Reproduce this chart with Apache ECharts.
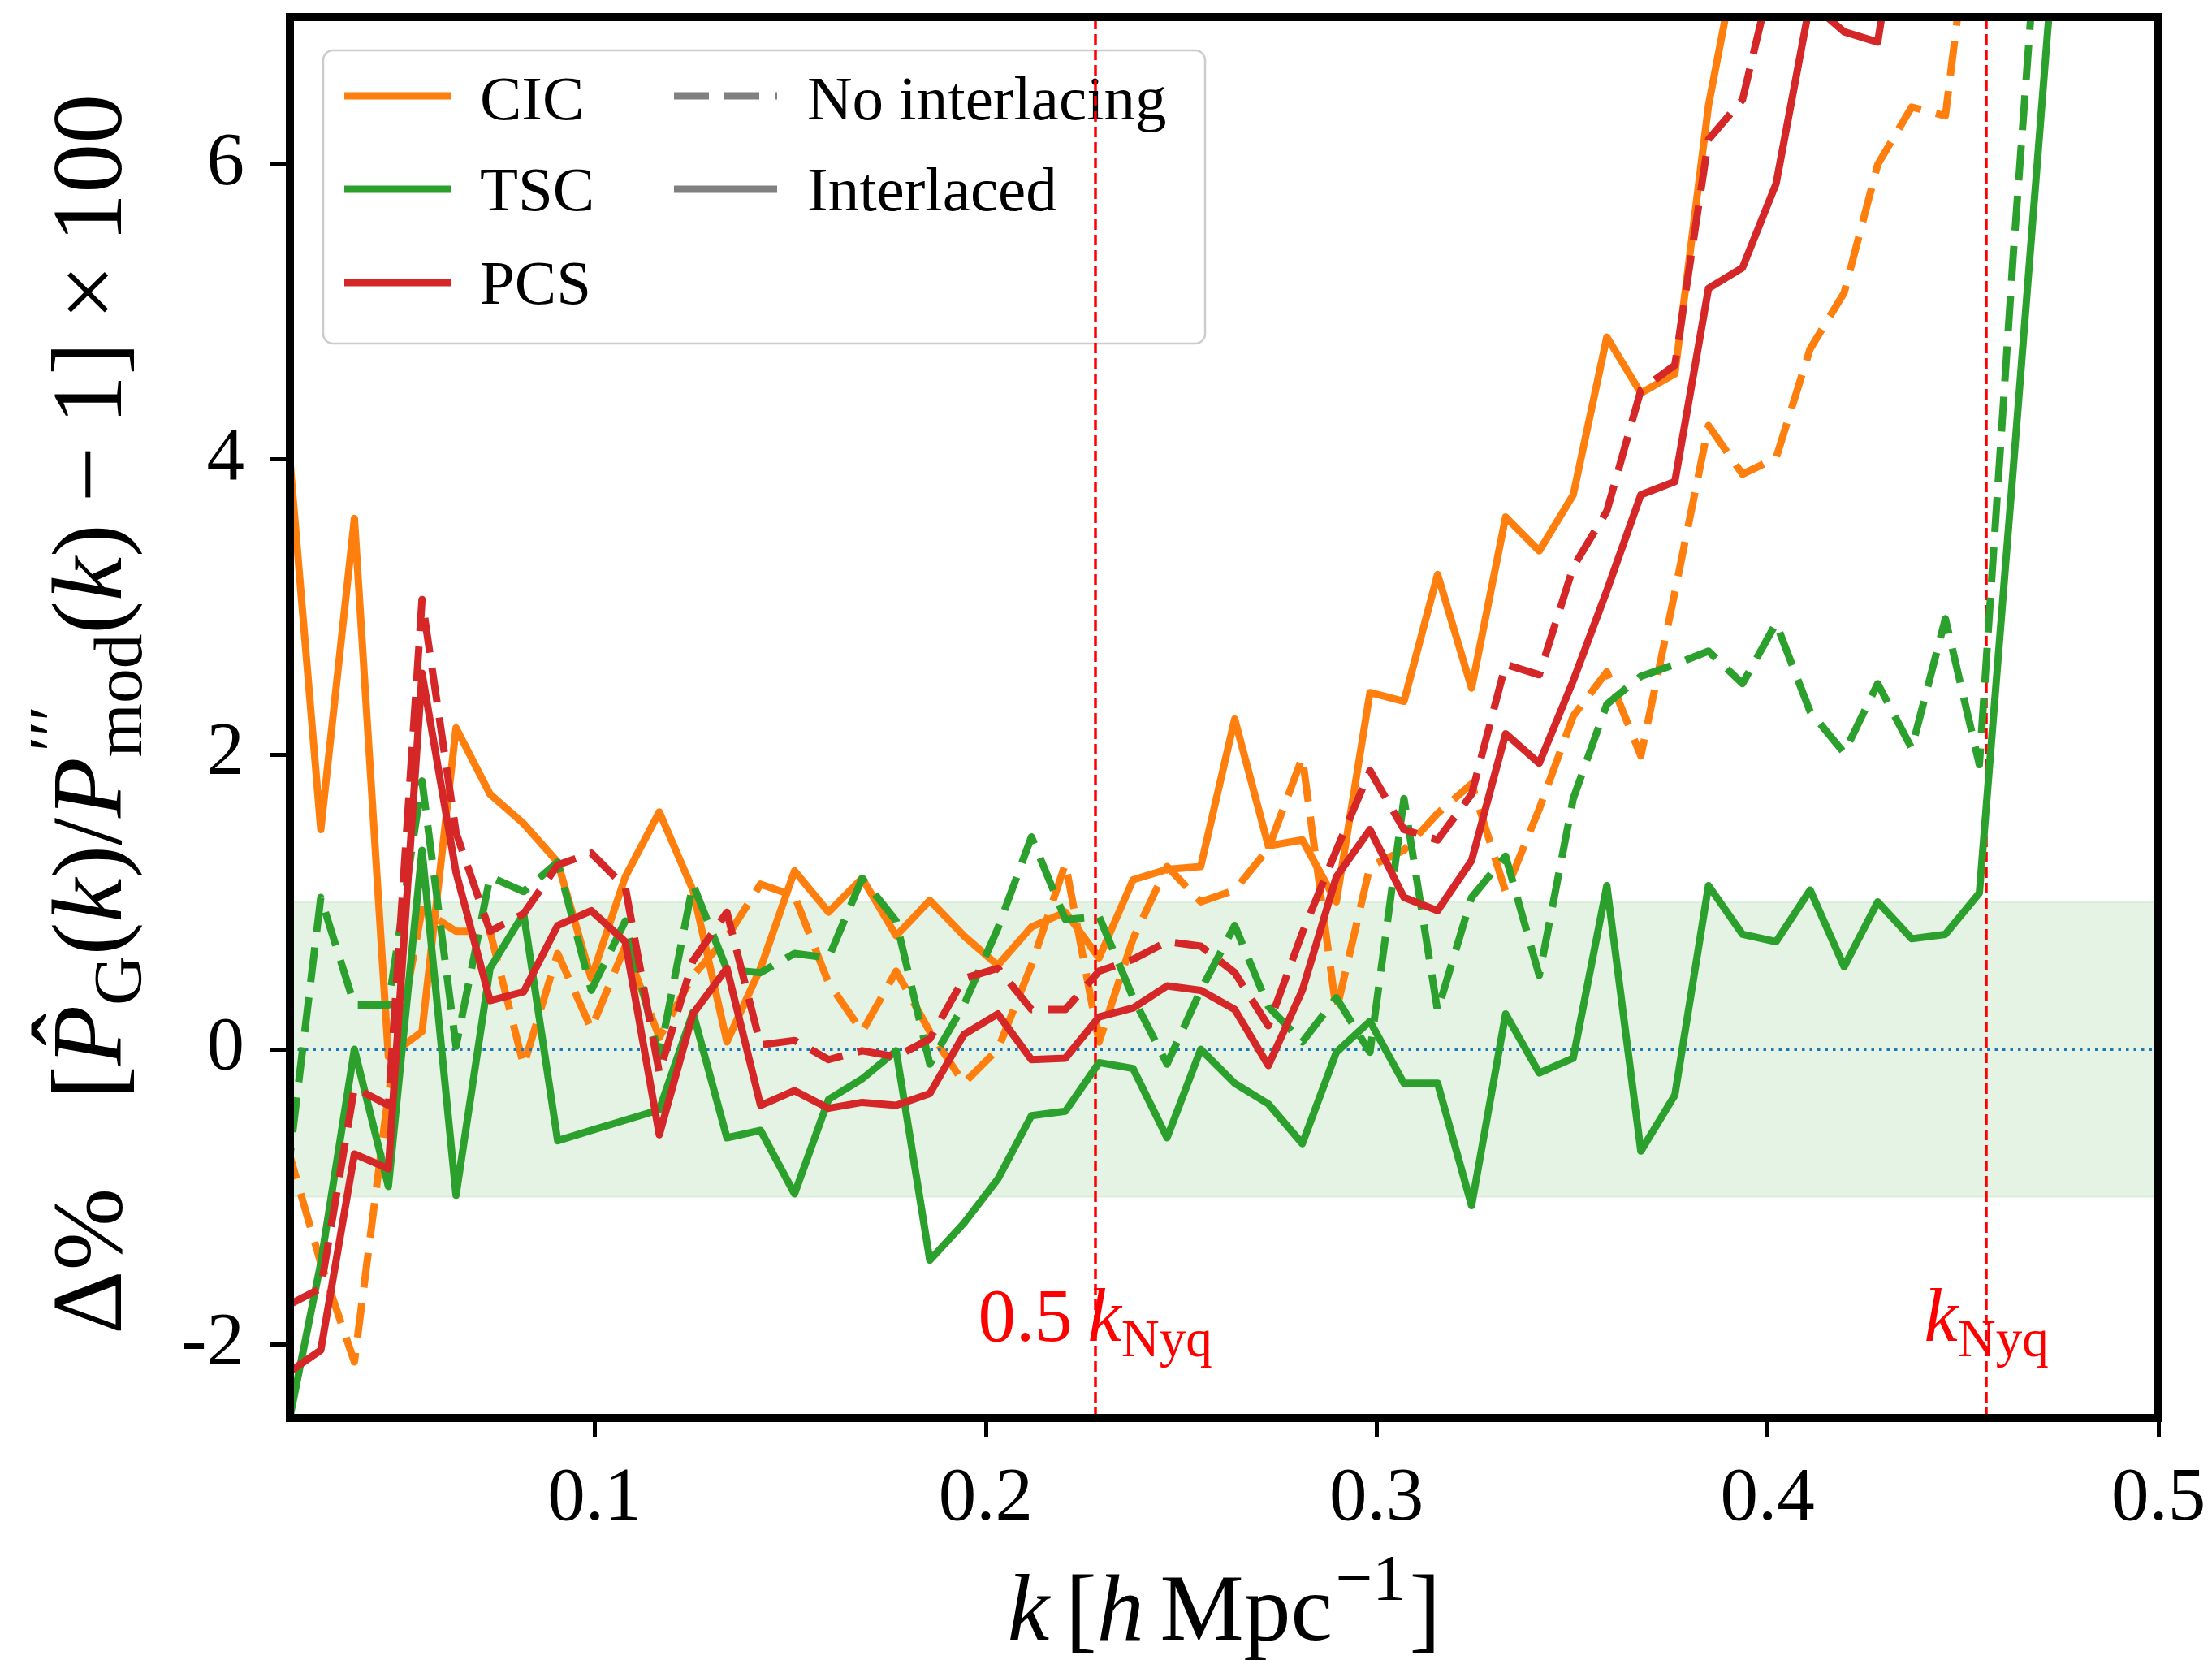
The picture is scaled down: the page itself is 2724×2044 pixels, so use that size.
<!DOCTYPE html>
<html>
<head>
<meta charset="utf-8">
<script src="https://cdn.jsdelivr.net/npm/echarts@6/dist/echarts.min.js"></script>
<style>
  html, body { margin: 0; padding: 0; background: #ffffff; }
  #chart { width: 2724px; height: 2044px; }
</style>
</head>
<body>
<div id="chart"></div>
<script>
// Wavenumber bins k [h/Mpc]
const kValues = [
  0.0212, 0.0299, 0.0385, 0.0472, 0.0558, 0.0645, 0.0732, 0.0818, 0.0905, 0.0991,
  0.1078, 0.1165, 0.1251, 0.1338, 0.1424, 0.1511, 0.1598, 0.1684, 0.1771, 0.1857,
  0.1944, 0.2031, 0.2117, 0.2204, 0.2290, 0.2377, 0.2464, 0.2550, 0.2637, 0.2723,
  0.2810, 0.2897, 0.2983, 0.3070, 0.3156, 0.3243, 0.3330, 0.3416, 0.3503, 0.3589,
  0.3676, 0.3763, 0.3849, 0.3936, 0.4022, 0.4109, 0.4196, 0.4282, 0.4369, 0.4455,
  0.4542, 0.4629, 0.4715, 0.4802, 0.4888, 0.4975
];

// Percent deviation from the model spectrum, per assignment scheme
const cicNoInterlacing = [
  -0.65, -1.45, -2.12, -0.30, 0.95, 0.80, 0.80, -0.11, 0.65, 0.14,
  0.70, 0.08, 0.50, 0.76, 1.12, 1.04, 0.45, 0.12, 0.53, 0.12,
  -0.23, 0.00, 0.57, 1.26, 0.05, 0.75, 1.24, 1.00, 1.08, 1.36,
  1.98, 0.26, 1.24, 1.35, 1.60, 1.80, 1.07, 1.63, 2.26, 2.56,
  1.99, 3.10, 4.23, 3.90, 4.01, 4.75, 5.13, 6.00, 6.39, 6.33,
  8.20, 9.50, 10.5, 11.5, 12.5, 13.5
];
const cicInterlaced = [
  4.25, 1.49, 3.60, -0.05, 0.12, 2.18, 1.73, 1.53, 1.27, 0.48,
  1.17, 1.61, 1.08, 0.05, 0.55, 1.21, 0.93, 1.16, 0.77, 1.01,
  0.77, 0.57, 0.83, 0.93, 0.62, 1.15, 1.22, 1.24, 2.24, 1.38,
  1.42, 1.00, 2.42, 2.36, 3.22, 2.45, 3.61, 3.38, 3.76, 4.83,
  4.45, 4.58, 6.40, 7.60, 8.40, 9.00, 9.70, 10.3, 11.0, 11.6,
  12.3, 13.0, 13.8, 14.5, 15.3, 16.0
];
const tscNoInterlacing = [
  -0.90, 1.03, 0.30, 0.30, 1.82, 0.02, 1.17, 1.07, 1.27, 0.40,
  0.87, -0.05, 1.12, 0.54, 0.52, 0.65, 0.62, 1.16, 0.87, -0.10,
  0.30, 0.82, 1.44, 0.88, 0.90, 0.35, -0.10, 0.40, 0.84, 0.29,
  0.05, 0.35, -0.02, 1.70, 0.26, 1.03, 1.31, 0.50, 1.70, 2.34,
  2.53, 2.61, 2.70, 2.48, 2.89, 2.29, 2.01, 2.48, 2.04, 2.92,
  1.93, 5.40, 8.50, 11.5, 14.5, 17.5
];
const tscInterlaced = [
  -2.60, -1.45, 0.00, -0.93, 1.35, -0.99, 0.55, 0.92, -0.62, -0.55,
  -0.48, -0.41, 0.25, -0.60, -0.55, -0.98, -0.34, -0.20, -0.01, -1.43,
  -1.18, -0.88, -0.45, -0.42, -0.09, -0.13, -0.60, 0.00, -0.23, -0.37,
  -0.64, -0.02, 0.19, -0.23, -0.23, -1.06, 0.24, -0.16, -0.06, 1.11,
  -0.69, -0.31, 1.11, 0.78, 0.73, 1.08, 0.56, 1.00, 0.75, 0.78,
  1.06, 3.95, 6.85, 9.70, 12.5, 15.4
];
const pcsNoInterlacing = [
  -1.74, -1.62, -0.26, -0.38, 3.05, 1.47, 0.80, 0.92, 1.25, 1.33,
  1.10, -0.16, 0.60, 0.93, 0.03, 0.06, -0.07, -0.01, -0.05, 0.07,
  0.48, 0.55, 0.27, 0.27, 0.53, 0.61, 0.73, 0.70, 0.52, 0.16,
  0.79, 1.35, 1.89, 1.49, 1.42, 1.73, 2.61, 2.54, 3.27, 3.65,
  4.47, 4.64, 6.17, 6.44, 7.40, 8.30, 9.20, 10.1, 11.0, 12.0,
  13.0, 14.0, 15.0, 16.0, 17.0, 18.0
];
const pcsInterlaced = [
  -2.20, -2.04, -0.71, -0.81, 2.55, 1.20, 0.33, 0.39, 0.84, 0.94,
  0.73, -0.58, 0.24, 0.55, -0.38, -0.28, -0.40, -0.36, -0.38, -0.30,
  0.10, 0.24, -0.07, -0.06, 0.22, 0.28, 0.43, 0.40, 0.27, -0.11,
  0.40, 1.17, 1.49, 1.03, 0.94, 1.28, 2.14, 1.94, 2.50, 3.11,
  3.76, 3.85, 5.16, 5.30, 5.87, 7.10, 6.90, 6.83, 8.30, 9.50,
  10.5, 11.5, 12.5, 13.5, 14.5, 15.5
];

const methods = ['CIC', 'TSC', 'PCS'];
const modes = ['No interlacing', 'Interlaced'];
const methodColors = ['#ff7f0e', '#2ca02c', '#d62728'];
const seriesValues = [
  [cicNoInterlacing, cicInterlaced],
  [tscNoInterlacing, tscInterlaced],
  [pcsNoInterlacing, pcsInterlaced]
];

const xTicks = [0.1, 0.2, 0.3, 0.4, 0.5];
const yTicks = [-2, 0, 2, 4, 6];
const xRange = [0.022, 0.5];
const yRange = [-2.5, 7];
const percentBand = [-1, 1];
const kNyquist = 0.456;
const kMarks = [0.228, kNyquist];

const SERIF = '"Liberation Serif", "Times New Roman", serif';
const DASH = [43, 19];
const LINE_W = 9;

const chart = echarts.init(document.getElementById('chart'), null, { renderer: 'canvas', width: 2724, height: 2044 });

// ---- series ----
const series = [];
series.push({
  type: 'line', name: 'band', data: [[xRange[0], 0], [xRange[1], 0]],
  symbol: 'none', silent: true, z: 1, lineStyle: { opacity: 0 },
  markArea: {
    silent: true,
    itemStyle: { color: 'rgba(44,160,44,0.13)', borderColor: 'rgba(44,160,44,0.10)', borderWidth: 2 },
    data: [[{ yAxis: percentBand[0] }, { yAxis: percentBand[1] }]]
  }
});
methods.forEach((m, mi) => {
  modes.forEach((mode, di) => {
    const vals = seriesValues[mi][di];
    series.push({
      type: 'line',
      name: m + ' ' + mode,
      data: kValues.map((k, i) => [k, vals[i]]),
      symbol: 'none', showSymbol: false, clip: true, silent: true,
      z: 3 + mi * 2 + di,
      lineStyle: { color: methodColors[mi], width: LINE_W, type: di === 0 ? DASH : 'solid', cap: 'butt', join: 'round' },
      emphasis: { disabled: true }
    });
  });
});
series.push({
  type: 'line', name: 'refs', data: [[xRange[0], 0], [xRange[1], 0]],
  symbol: 'none', silent: true, z: 20, lineStyle: { opacity: 0 },
  markLine: {
    silent: true, symbol: ['none', 'none'], label: { show: false }, precision: 6,
    data: [
      { yAxis: 0, lineStyle: { color: '#1f77b4', width: 3, type: [3.5, 6] } },
      { xAxis: kMarks[0], lineStyle: { color: '#ff0000', width: 3.5, type: [13, 6] } },
      { xAxis: kMarks[1], lineStyle: { color: '#ff0000', width: 3.5, type: [13, 6] } }
    ]
  }
});

const option = {
  animation: false,
  backgroundColor: '#ffffff',
  grid: { left: 357, top: 21, right: 66, bottom: 298, containLabel: false },
  xAxis: {
    type: 'value', min: xRange[0], max: xRange[1], position: 'bottom',
    axisLine: { show: false, onZero: false },
    splitLine: { show: false },
    axisTick: { show: true, inside: false, length: 24, customValues: xTicks, lineStyle: { color: '#000', width: 5 } },
    axisLabel: { show: true, customValues: xTicks, margin: 54, fontSize: 93, fontFamily: SERIF, color: '#000',
      formatter: v => v.toFixed(1) }
  },
  yAxis: {
    type: 'value', min: yRange[0], max: yRange[1], position: 'left',
    axisLine: { show: false, onZero: false },
    splitLine: { show: false },
    axisTick: { show: true, inside: false, length: 24, customValues: yTicks, lineStyle: { color: '#000', width: 5 } },
    axisLabel: { show: true, customValues: yTicks, margin: 56, fontSize: 93, fontFamily: SERIF, color: '#000',
      formatter: v => String(v) }
  },
  series: series
};
chart.setOption(option);

// ---- text layout helpers for the math-style labels ----
const mctx = document.createElement('canvas').getContext('2d');
function fontOf(size, italic) { return (italic ? 'italic ' : '') + size.toFixed(1) + 'px ' + SERIF; }
function textWidth(t, size, italic) { mctx.font = fontOf(size, italic); return mctx.measureText(t).width; }
mctx.font = fontOf(100, false);
mctx.textBaseline = 'middle';
const mH = mctx.measureText('H');
const MID = (mH.actualBoundingBoxDescent > 0 ? mH.actualBoundingBoxDescent : 34) / 100;
mctx.textBaseline = 'alphabetic';

function textEl(t, x, baseline, size, italic, color, align) {
  return {
    type: 'text', x: x, y: baseline - MID * size, silent: true,
    style: { text: t, font: fontOf(size, italic), fill: color,
      align: align || 'left', verticalAlign: 'middle', textAlign: align || 'left', textVerticalAlign: 'middle' }
  };
}

function layoutMath(pieces, base, color) {
  const out = [];
  let x = 0;
  pieces.forEach(p => {
    if (p.space) { x += p.space * base; return; }
    const size = base * (p.scale || 1);
    const dx = (p.dx || 0) * base;
    const w = textWidth(p.t, size, p.it);
    out.push(textEl(p.t, x + dx, (p.shift || 0) * base, size, p.it, color));
    if (!p.overlay) x += dx + w;
  });
  return { children: out, width: x };
}

function centered(layout, cx, baseline) {
  return { type: 'group', x: cx - layout.width / 2, y: baseline, children: layout.children, silent: true };
}

// ---- decorations ----
const gridTL = chart.convertToPixel({ gridIndex: 0 }, [xRange[0], yRange[1]]);
const gridBR = chart.convertToPixel({ gridIndex: 0 }, [xRange[1], yRange[0]]);
const gx = gridTL[0], gy = gridTL[1], gw = gridBR[0] - gridTL[0], gh = gridBR[1] - gridTL[1];

const graphics = [];

// x axis title: k [h Mpc^-1]
const xTitle = layoutMath([
  { t: 'k', it: true }, { space: 0.17 }, { t: '[' }, { t: 'h', it: true }, { space: 0.17 },
  { t: 'Mpc' }, { t: '\u22121', scale: 0.7, shift: -0.42, dx: 0.03 }, { t: ']', dx: 0.04 }
], 116, '#000');
graphics.push(centered(xTitle, gx + gw / 2, 2020));

// y axis title, rotated
const yTitle = layoutMath([
  { t: '\u0394%' }, { space: 0.9 },
  { t: '[' },
  { t: '\u02c6', overlay: true, dx: 0.2, shift: -0.2 },
  { t: 'P', it: true },
  { t: 'G', scale: 0.7, shift: 0.2 },
  { t: '(' }, { t: 'k', it: true }, { t: ')' }, { t: '/' },
  { t: 'P', it: true },
  { t: '\u2032\u2032\u2032', scale: 0.7, shift: -0.45, overlay: true, dx: 0.06 },
  { t: 'mod', scale: 0.7, shift: 0.2 },
  { t: '(' }, { t: 'k', it: true }, { t: ')' },
  { space: 0.22 }, { t: '\u2212' }, { space: 0.22 }, { t: '1' }, { t: ']' },
  { space: 0.22 }, { t: '\u00d7' }, { space: 0.22 }, { t: '100' }
], 122, '#000');
graphics.push({
  type: 'group', x: 150, y: 1643, rotation: Math.PI / 2,
  children: yTitle.children, silent: true
});

// Nyquist labels
const nyqLabelY = chart.convertToPixel({ gridIndex: 0 }, [kMarks[0], -1.98])[1];
const halfNyq = layoutMath([
  { t: '0.5' }, { space: 0.2 }, { t: 'k', it: true }, { t: 'Nyq', scale: 0.7, shift: 0.2 }
], 93, '#ff0000');
graphics.push(centered(halfNyq, chart.convertToPixel({ gridIndex: 0 }, [kMarks[0], 0])[0], nyqLabelY));
const fullNyq = layoutMath([
  { t: 'k', it: true }, { t: 'Nyq', scale: 0.7, shift: 0.2 }
], 93, '#ff0000');
graphics.push(centered(fullNyq, chart.convertToPixel({ gridIndex: 0 }, [kMarks[1], 0])[0], nyqLabelY));

// legend box
const legend = { x: 398, y: 62, w: 1086, h: 361 };
const legendRows = [118, 233, 348];
const legendBase = [148, 260, 375];
const legendEls = [{
  type: 'rect', shape: { x: legend.x, y: legend.y, width: legend.w, height: legend.h, r: 12 },
  style: { fill: 'rgba(255,255,255,0.8)', stroke: '#cccccc', lineWidth: 2.5 }, silent: true
}];
methods.forEach((m, i) => {
  legendEls.push({ type: 'line', shape: { x1: 424, y1: legendRows[i], x2: 555, y2: legendRows[i] },
    style: { stroke: methodColors[i], lineWidth: LINE_W }, silent: true });
  legendEls.push(textEl(m, 591, legendBase[i], 77, false, '#000'));
});
modes.forEach((mode, i) => {
  legendEls.push({ type: 'line', shape: { x1: 830, y1: legendRows[i], x2: 957, y2: legendRows[i] },
    style: { stroke: '#808080', lineWidth: LINE_W, lineDash: i === 0 ? DASH : null }, silent: true });
  legendEls.push(textEl(mode, 994, legendBase[i], 77, false, '#000'));
});
graphics.push({ type: 'group', z: 60, children: legendEls, silent: true });

// plot frame
graphics.push({
  type: 'rect', z: 100, silent: true,
  shape: { x: gx, y: gy, width: gw, height: gh },
  style: { fill: null, stroke: '#000000', lineWidth: 10 }
});

chart.setOption({ graphic: graphics });
</script>
</body>
</html>
